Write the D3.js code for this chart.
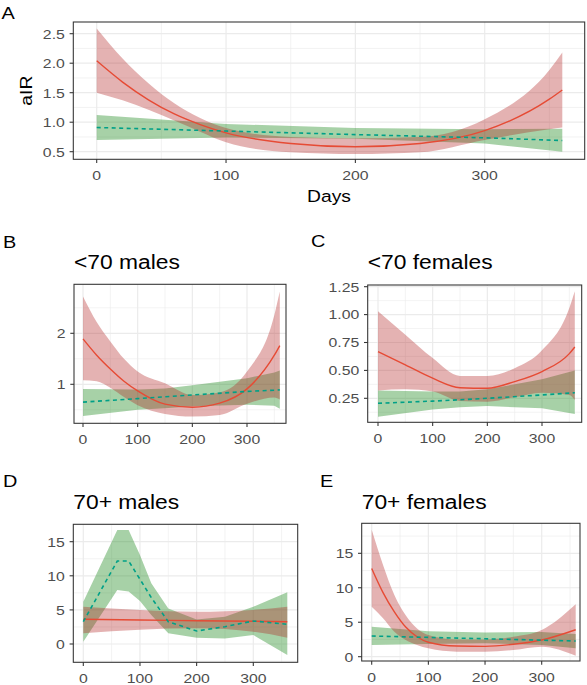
<!DOCTYPE html>
<html lang="en">
<head>
<meta charset="utf-8">
<title>aIR by days</title>
<script src="https://cdn.jsdelivr.net/npm/d3@7"></script>
<style>
body { margin: 0; background: #fff; }
svg text { font-family: "Liberation Sans", Arial, Helvetica, sans-serif; }
.tick-label { font-size: 13.5px; fill: #4d4d4d; }
.axis-title { font-size: 16.5px; fill: #000; }
.tag { font-size: 17px; fill: #000; }
.ptitle { font-size: 19.5px; fill: #000; }
</style>
</head>
<body>
<script>
// ---------- data ----------
// A: all
var daysA_red = [0, 20, 40, 60, 80, 100, 150, 200, 250, 300, 350, 360];
var fitA_red  = [2.04, 1.68, 1.38, 1.14, 0.96, 0.82, 0.64, 0.585, 0.64, 0.856, 1.39, 1.546];
var loA_red   = [1.50, 1.37, 1.21, 1.03, 0.84, 0.66, 0.49, 0.46, 0.49, 0.70, 0.88, 0.91];
var hiA_red   = [2.59, 2.08, 1.66, 1.32, 1.07, 0.90, 0.75, 0.73, 0.75, 1.05, 1.885, 2.18];
var daysA_grn = [0, 100, 200, 300, 360];
var fitA_grn  = [0.91, 0.85, 0.79, 0.735, 0.69];
var loA_grn   = [0.70, 0.74, 0.72, 0.64, 0.50];
var hiA_grn   = [1.12, 0.97, 0.90, 0.88, 0.89];

// B: <70 males
var daysB_red = [0, 25, 50, 75, 100, 150, 200, 250, 300, 350, 360];
var fitB_red  = [1.89, 1.57, 1.30, 1.06, 0.87, 0.61, 0.55, 0.63, 0.91, 1.57, 1.76];
var loB_red   = [1.08, 1.06, 0.93, 0.75, 0.59, 0.42, 0.37, 0.40, 0.62, 0.74, 0.70];
var hiB_red   = [2.72, 2.22, 1.84, 1.50, 1.25, 1.02, 0.79, 0.84, 1.25, 2.36, 2.82];
var daysB_grn = [0, 100, 150, 200, 300, 350, 360];
var fitB_grn  = [0.65, 0.72, 0.755, 0.79, 0.86, 0.885, 0.89];
var loB_grn   = [0.38, 0.50, 0.53, 0.57, 0.60, 0.58, 0.52];
var hiB_grn   = [0.91, 0.90, 0.92, 0.98, 1.12, 1.23, 1.27];

// C: <70 females
var daysC_red = [0, 50, 100, 150, 200, 250, 300, 350, 360];
var fitC_red  = [0.668, 0.55, 0.43, 0.345, 0.34, 0.40, 0.49, 0.65, 0.71];
var loC_red   = [0.32, 0.33, 0.31, 0.226, 0.22, 0.26, 0.30, 0.28, 0.235];
var hiC_red   = [1.03, 0.82, 0.61, 0.45, 0.45, 0.52, 0.68, 1.06, 1.21];
var daysC_grn = [0, 100, 150, 200, 300, 360];
var fitC_grn  = [0.205, 0.225, 0.237, 0.25, 0.28, 0.30];
var loC_grn   = [0.085, 0.15, 0.17, 0.18, 0.16, 0.11];
var hiC_grn   = [0.32, 0.31, 0.31, 0.33, 0.42, 0.50];

// D: 70+ males
var daysD_red = [0, 100, 200, 300, 360];
var fitD_red  = [3.62, 3.52, 3.42, 3.33, 3.27];
var loD_red   = [1.57, 2.1, 2.3, 1.8, 0.92];
var hiD_red   = [5.47, 5.0, 4.74, 5.0, 5.47];
var daysD_grn = [0, 60, 80, 100, 120, 150, 200, 250, 300, 360];
var fitD_grn  = [3.27, 12.17, 12.17, 9.5, 6.8, 3.27, 1.9, 2.54, 3.37, 2.89];
var loD_grn   = [0.34, 7.9, 7.7, 6.3, 4.25, 1.57, 0.92, 0.8, 1.32, -1.6];
var hiD_grn   = [6.2, 16.7, 16.7, 13.05, 8.9, 5.2, 3.6, 4.0, 5.47, 7.58];

// E: 70+ females
var daysE_red = [0, 20, 40, 60, 80, 100, 150, 200, 250, 300, 360];
var fitE_red  = [12.8, 9.3, 6.5, 4.3, 2.9, 2.1, 1.55, 1.5, 1.8, 2.42, 3.91];
var loE_red   = [7.25, 5.57, 3.62, 2.42, 1.7, 1.21, 0.73, 0.73, 0.97, 1.45, 0.14];
var hiE_red   = [18.4, 13.3, 8.95, 6.0, 4.1, 3.14, 2.5, 2.5, 2.9, 3.87, 7.6];
var daysE_grn = [0, 100, 200, 300, 360];
var fitE_grn  = [3.0, 2.8, 2.6, 2.4, 2.27];
var loE_grn   = [1.69, 1.85, 1.94, 1.7, 1.21];
var hiE_grn   = [4.35, 3.7, 3.5, 3.6, 3.3];

var xTicks = [0, 100, 200, 300];
var xMinor = [50, 150, 250, 350];
var yTicksA = [0.5, 1.0, 1.5, 2.0, 2.5];
var yTicksB = [1, 2];
var yTicksC = [0.25, 0.50, 0.75, 1.00, 1.25];
var yTicksD = [0, 5, 10, 15];
var yTicksE = [0, 5, 10, 15];

// ---------- layout ----------
var W = 587, H = 685;
var SX = 1.17; // text in the figure is a little wider than Helvetica
var RED = "#e64b35", RED_FILL = "#b22222";
var GRN = "#00a087", GRN_FILL = "#228b22";

var svg = d3.select("body").append("svg")
  .attr("width", W).attr("height", H);

function zip(days, fit, lo, hi) {
  return days.map(function(d, i) { return {day: d, fit: fit[i], lo: lo[i], hi: hi[i]}; });
}

function stretchText(sel, x, y, rot) {
  sel.attr("transform", "translate(" + x + "," + y + ")" + (rot ? " rotate(" + rot + ")" : "") + " scale(" + SX + ",1)");
  return sel;
}

function drawPanel(p) {
  // p.box = [left, top, right, bottom]; x/y scales pinned on two tick positions
  var L = p.box[0], T = p.box[1], R = p.box[2], B = p.box[3];
  var x = d3.scaleLinear().domain([0, 300]).range([p.x0, p.x300]);
  var y = d3.scaleLinear().domain(p.yAnchor).range(p.yPix);
  var xmin = x.invert(L), xmax = x.invert(R);
  var ymin = y.invert(B), ymax = y.invert(T);

  var g = svg.append("g");
  g.append("rect").attr("x", L).attr("y", T).attr("width", R - L).attr("height", B - T).attr("fill", "#fff");

  // grid
  var step = p.yTicks[1] - p.yTicks[0];
  var yMinor = [];
  for (var v = p.yTicks[0] - step / 2; v <= p.yTicks[p.yTicks.length - 1] + step; v += step) yMinor.push(v);
  yMinor = yMinor.filter(function(v) { return v > ymin && v < ymax; });
  var xm = xMinor.filter(function(v) { return v > xmin && v < xmax; });

  g.selectAll(".ymin").data(yMinor).enter().append("line")
    .attr("x1", L).attr("x2", R).attr("y1", function(d) { return y(d); }).attr("y2", function(d) { return y(d); })
    .attr("stroke", "#ebebeb").attr("stroke-width", 0.6);
  g.selectAll(".xmin").data(xm).enter().append("line")
    .attr("y1", T).attr("y2", B).attr("x1", function(d) { return x(d); }).attr("x2", function(d) { return x(d); })
    .attr("stroke", "#ebebeb").attr("stroke-width", 0.6);
  g.selectAll(".ymaj").data(p.yTicks).enter().append("line")
    .attr("x1", L).attr("x2", R).attr("y1", function(d) { return y(d); }).attr("y2", function(d) { return y(d); })
    .attr("stroke", "#ebebeb").attr("stroke-width", 1.2);
  g.selectAll(".xmaj").data(xTicks).enter().append("line")
    .attr("y1", T).attr("y2", B).attr("x1", function(d) { return x(d); }).attr("x2", function(d) { return x(d); })
    .attr("stroke", "#ebebeb").attr("stroke-width", 1.2);

  // red fits are smooth splines, green kept piecewise
  var areaRed = d3.area().curve(d3.curveMonotoneX).x(function(d) { return x(d.day); })
    .y0(function(d) { return y(d.lo); }).y1(function(d) { return y(d.hi); });
  var lineRed = d3.line().curve(d3.curveMonotoneX).x(function(d) { return x(d.day); }).y(function(d) { return y(d.fit); });
  var areaGrn = d3.area().x(function(d) { return x(d.day); })
    .y0(function(d) { return y(d.lo); }).y1(function(d) { return y(d.hi); });
  var lineGrn = d3.line().x(function(d) { return x(d.day); }).y(function(d) { return y(d.fit); });

  var clipId = "clip" + p.tag;
  g.append("clipPath").attr("id", clipId).append("rect")
    .attr("x", L).attr("y", T).attr("width", R - L).attr("height", B - T);
  var inner = g.append("g").attr("clip-path", "url(#" + clipId + ")");

  inner.append("path").datum(p.grn).attr("d", areaGrn).attr("fill", GRN_FILL).attr("fill-opacity", 0.4);
  inner.append("path").datum(p.red).attr("d", areaRed).attr("fill", RED_FILL).attr("fill-opacity", 0.35);
  inner.append("path").datum(p.red).attr("d", lineRed).attr("fill", "none").attr("stroke", RED).attr("stroke-width", 1.4);
  inner.append("path").datum(p.grn).attr("d", lineGrn).attr("fill", "none").attr("stroke", GRN)
    .attr("stroke-width", 1.6).attr("stroke-dasharray", "4,3.5");

  g.append("rect").attr("x", L).attr("y", T).attr("width", R - L).attr("height", B - T)
    .attr("fill", "none").attr("stroke", "#333").attr("stroke-width", 1.07);

  // ticks
  g.selectAll(".xt").data(xTicks).enter().append("line")
    .attr("x1", function(d) { return x(d); }).attr("x2", function(d) { return x(d); })
    .attr("y1", B).attr("y2", B + 3.7).attr("stroke", "#333").attr("stroke-width", 1.07);
  g.selectAll(".yt").data(p.yTicks).enter().append("line")
    .attr("y1", function(d) { return y(d); }).attr("y2", function(d) { return y(d); })
    .attr("x1", L - 3.7).attr("x2", L).attr("stroke", "#333").attr("stroke-width", 1.07);

  g.selectAll(".xl").data(xTicks).enter().append("text")
    .attr("class", "tick-label").attr("text-anchor", "middle")
    .text(function(d) { return d; })
    .each(function(d) { stretchText(d3.select(this), x(d), B + 20.5); });
  var fmt = d3.format(p.yFmt);
  g.selectAll(".yl").data(p.yTicks).enter().append("text")
    .attr("class", "tick-label").attr("text-anchor", "end").attr("dy", "0.36em")
    .text(function(d) { return fmt(d); })
    .each(function(d) { stretchText(d3.select(this), L - 8.5, y(d)); });

  // tag and title
  stretchText(svg.append("text").attr("class", "tag").text(p.tag), p.tagXY[0], p.tagXY[1]);
  if (p.title) {
    stretchText(svg.append("text").attr("class", "ptitle").text(p.title), L, p.titleY);
  }
  return {x: x, y: y};
}

drawPanel({tag: "A", tagXY: [1.5, 19], box: [73.3, 22, 584.7, 159.3],
  x0: 96.7, x300: 484.7, yAnchor: [0.5, 2.5], yPix: [151.7, 33.7], yTicks: yTicksA, yFmt: ".1f",
  red: zip(daysA_red, fitA_red, loA_red, hiA_red), grn: zip(daysA_grn, fitA_grn, loA_grn, hiA_grn)});

// axis titles for A
stretchText(svg.append("text").attr("class", "axis-title").attr("text-anchor", "middle").text("Days"), 329, 201.5);
stretchText(svg.append("text").attr("class", "axis-title").attr("text-anchor", "middle").text("aIR"), 32, 90.7, -90);

drawPanel({tag: "B", tagXY: [3, 248], title: "<70 males", titleY: 268.5, box: [74, 284.3, 286, 423.3],
  x0: 83, x300: 247, yAnchor: [1, 2], yPix: [384.3, 333.3], yTicks: yTicksB, yFmt: "d",
  red: zip(daysB_red, fitB_red, loB_red, hiB_red), grn: zip(daysB_grn, fitB_grn, loB_grn, hiB_grn)});

drawPanel({tag: "C", tagXY: [311, 247], title: "<70 females", titleY: 268.5, box: [367.7, 285, 581.7, 422.3],
  x0: 378, x300: 542, yAnchor: [0.25, 1.25], yPix: [398.3, 286.7], yTicks: yTicksC, yFmt: ".2f",
  red: zip(daysC_red, fitC_red, loC_red, hiC_red), grn: zip(daysC_grn, fitC_grn, loC_grn, hiC_grn)});

drawPanel({tag: "D", tagXY: [3, 487], title: "70+ males", titleY: 508.5, box: [73.3, 524.3, 297.7, 662.3],
  x0: 83.3, x300: 253.3, yAnchor: [0, 15], yPix: [644, 541.7], yTicks: yTicksD, yFmt: "d",
  red: zip(daysD_red, fitD_red, loD_red, hiD_red), grn: zip(daysD_grn, fitD_grn, loD_grn, hiD_grn)});

drawPanel({tag: "E", tagXY: [320, 487], title: "70+ females", titleY: 508.5, box: [361.7, 523.3, 580, 661],
  x0: 371.7, x300: 541.7, yAnchor: [0, 15], yPix: [656.7, 553.3], yTicks: yTicksE, yFmt: "d",
  red: zip(daysE_red, fitE_red, loE_red, hiE_red), grn: zip(daysE_grn, fitE_grn, loE_grn, hiE_grn)});
</script>
</body>
</html>
